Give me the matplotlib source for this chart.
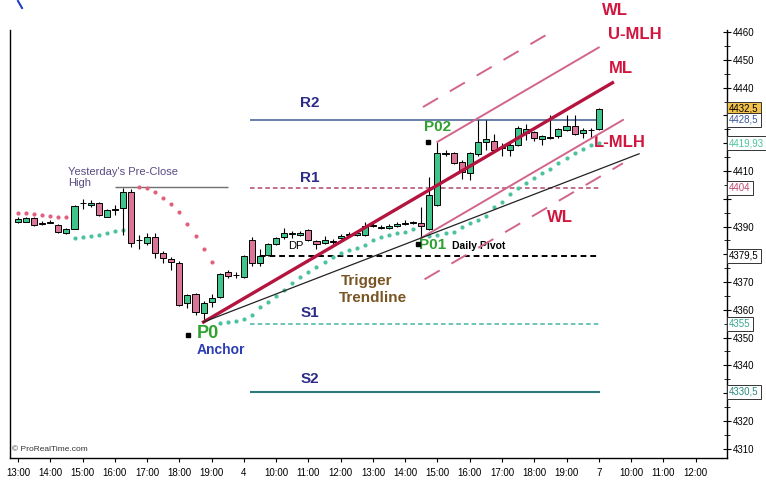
import numpy as np
import matplotlib.pyplot as plt
from matplotlib.transforms import blended_transform_factory
from matplotlib.lines import Line2D

plt.rcParams['font.family'] = ['Liberation Sans Narrow', 'Liberation Sans', 'DejaVu Sans']

# Data ---------------------------------------------------------

# 15 min bars, bar 0 = 13:00 of the first day
opens = [4391.8, 4391.8, 4393.0, 4390.9, 4391.3, 4390.6, 4387.5, 4389.1, 4398.3, 4397.6,
         4398.5, 4393.6, 4396.0, 4396.6, 4402.4, 4385.0, 4384.1, 4386.2, 4380.5, 4378.2,
         4376.9, 4362.4, 4365.7, 4358.8, 4362.8, 4364.6, 4373.6, 4372.5, 4371.8, 4385.1,
         4376.9, 4379.8, 4383.7, 4386.2, 4387.3, 4386.9, 4388.7, 4384.8, 4384.1, 4384.6,
         4385.9, 4387.1, 4386.9, 4386.9, 4390.2, 4389.5, 4389.6, 4390.2, 4390.9, 4391.3,
         4391.3, 4389.1, 4397.8, 4416.3, 4416.5, 4413.2, 4409.3, 4416.1, 4420.5, 4420.8,
         4418.3, 4417.6, 4419.4, 4423.7, 4424.0, 4421.5, 4422.0, 4422.6, 4424.8, 4426.2,
         4423.7, 4424.6, 4425.1]
highs = [4393.3, 4393.4, 4393.4, 4391.9, 4392.5, 4391.0, 4389.4, 4397.6, 4400.0, 4399.4,
         4398.9, 4396.3, 4397.7, 4404.0, 4403.6, 4387.0, 4387.5, 4387.7, 4381.0, 4379.0,
         4377.5, 4365.7, 4366.0, 4363.0, 4365.7, 4373.3, 4374.5, 4373.6, 4379.8, 4386.2,
         4381.9, 4384.1, 4386.2, 4389.5, 4388.5, 4388.5, 4389.0, 4385.1, 4386.5, 4385.5,
         4387.3, 4387.9, 4388.3, 4391.6, 4391.2, 4390.4, 4390.9, 4391.6, 4392.3, 4392.0,
         4397.0, 4407.8, 4420.5, 4417.6, 4417.0, 4414.0, 4417.0, 4428.4, 4428.4, 4423.3,
         4420.1, 4420.1, 4426.2, 4427.0, 4424.5, 4423.0, 4430.2, 4425.5, 4430.2, 4430.2,
         4425.5, 4425.5, 4432.7]
lows = [4391.2, 4391.5, 4390.2, 4390.6, 4391.2, 4387.6, 4387.3, 4389.0, 4396.3, 4397.0,
        4393.8, 4393.4, 4394.1, 4386.9, 4382.6, 4382.0, 4383.5, 4378.6, 4376.9, 4374.3,
        4361.5, 4360.5, 4358.1, 4355.6, 4361.0, 4364.2, 4371.5, 4371.5, 4371.5, 4375.8,
        4375.8, 4379.4, 4383.4, 4385.5, 4386.0, 4386.5, 4384.8, 4381.9, 4383.7, 4383.7,
        4385.5, 4386.5, 4386.5, 4386.5, 4389.8, 4389.1, 4389.1, 4389.8, 4390.5, 4390.9,
        4385.9, 4388.7, 4397.4, 4415.5, 4412.5, 4407.1, 4406.8, 4415.5, 4417.6, 4416.7,
        4415.5, 4415.5, 4419.0, 4421.2, 4420.8, 4419.4, 4421.5, 4422.0, 4424.5, 4423.0,
        4421.9, 4422.0, 4424.8]
closes = [4392.6, 4393.0, 4390.5, 4391.2, 4391.6, 4387.9, 4389.1, 4397.4, 4398.5, 4398.5,
          4394.1, 4396.0, 4396.1, 4402.3, 4384.0, 4385.2, 4386.2, 4380.5, 4378.6, 4377.2,
          4361.7, 4365.3, 4359.2, 4362.4, 4364.2, 4372.9, 4372.2, 4372.7, 4379.4, 4376.9,
          4379.4, 4383.7, 4385.9, 4387.7, 4387.5, 4387.7, 4385.1, 4383.7, 4385.1, 4384.8,
          4386.6, 4387.3, 4387.7, 4390.2, 4390.4, 4389.7, 4390.2, 4390.9, 4391.3, 4391.4,
          4390.2, 4401.4, 4416.5, 4416.6, 4412.9, 4409.6, 4416.5, 4420.5, 4421.5, 4417.6,
          4418.6, 4419.4, 4425.5, 4425.1, 4421.9, 4422.6, 4422.3, 4425.1, 4426.2, 4423.3,
          4424.8, 4424.8, 4432.5]

# parabolic SAR dots
sar_short_idx = [0, 1, 2, 3, 4, 5, 6, 15, 16, 17, 18, 19, 20, 21, 22, 23, 24]
sar_short = [4394.9, 4394.7, 4394.5, 4394.2, 4393.9, 4393.6, 4393.3,
             4404.2, 4403.9, 4402.4, 4400.3, 4398.1, 4395.2, 4390.9, 4386.6, 4381.9, 4377.2]
sar_long_idx = list(range(7, 14)) + list(range(25, 50)) + list(range(51, 73))
sar_long = [4385.9, 4386.2, 4386.6, 4386.9, 4387.7, 4388.4, 4388.7,
            4355.2, 4355.6, 4355.9, 4356.7, 4358.1, 4361.0, 4362.8, 4365.0, 4367.1, 4369.6,
            4371.8, 4373.6, 4375.4, 4377.2, 4379.0, 4380.5, 4381.5, 4382.3, 4383.3, 4385.1,
            4386.2, 4386.9, 4387.7, 4388.0, 4389.1,
            4386.6, 4386.9, 4387.7, 4388.0, 4389.8, 4391.3, 4392.3, 4393.8, 4397.0, 4398.8,
            4401.7, 4403.9, 4405.7, 4407.5, 4409.3, 4410.7, 4412.9, 4414.7, 4416.5, 4417.9,
            4419.4, 4419.93]

# pitchfork pivots (bar, price): P0, P01, P02
piv_x = [23, 50, 52]
piv_y = [4355.6, 4385.9, 4420.5]

# daily pivot levels
levels = {'R2': 4428.5, 'R1': 4404.0, 'DP': 4379.5, 'S1': 4355.0, 'S2': 4330.5}
preclose_high = 4404.4

tick_labels = ['13:00', '14:00', '15:00', '16:00', '17:00', '18:00', '19:00', '4',
               '10:00', '11:00', '12:00', '13:00', '14:00', '15:00', '16:00', '17:00',
               '18:00', '19:00', '7', '10:00', '11:00', '12:00']
tick_bars = np.arange(0, 85, 4)

price_ticks = np.arange(4310, 4461, 10)
hidden_ticks = [4330, 4380, 4400, 4420, 4430]   # covered by the value boxes

# Figure -------------------------------------------------------

fig = plt.figure(figsize=(7.66, 4.84), dpi=100)
ax = fig.add_axes([10 / 766, 26 / 484, 717 / 766, 428 / 484])
ax.set_xlim(-1.0, 87.9)
ax.set_ylim(4306.6, 4460.8)

o = np.array(opens)
h = np.array(highs)
l = np.array(lows)
c = np.array(closes)
idx = np.arange(len(o))
up = c >= o
body_col = np.where(up, '#3fc48c', '#d97598')

ax.vlines(idx, l, h, color='black', lw=0.8, zorder=3)
bottom = np.minimum(o, c)
height = np.maximum(np.abs(c - o), 0.15)
ax.bar(idx, height, bottom=bottom, width=0.75, color=body_col,
       edgecolor='black', linewidth=0.7, zorder=4)

ax.scatter(sar_short_idx, sar_short, s=9, color='#e0607e', zorder=2, linewidths=0)
ax.scatter(sar_long_idx, sar_long, s=9, color='#4cc3a0', zorder=2, linewidths=0)

# pivot levels
x0, x1 = 28.7, 72.1
ax.hlines(levels['R2'], x0, x1, color='#4d6a9c', lw=1.2, zorder=1)
ax.hlines(levels['R1'], x0, x1, color='#b0486a', lw=1.1, linestyles=(0, (3, 2)), zorder=1)
ax.hlines(levels['DP'], x0, x1, color='black', lw=1.4, linestyles=(0, (3, 2)), zorder=1)
ax.hlines(levels['S1'], x0, x1, color='#48b4a4', lw=1.1, linestyles=(0, (3, 2)), zorder=1)
ax.hlines(levels['S2'], x0, x1, color='#2b7a80', lw=1.5, zorder=1)
ax.hlines(preclose_high, 12.0, 26.0, color='#707070', lw=1.0, zorder=1)

# pitchfork
p0x, p1x, p2x = piv_x
p0y, p1y, p2y = piv_y
mx = (p1x + p2x) / 2
my = (p1y + p2y) / 2
slope = (my - p0y) / (mx - p0x)
ml = lambda x: p0y + slope * (x - p0x)
off = p2y - ml(p2x)

xs = np.array([p0x, 73.7])
ax.plot(xs, ml(xs), color='#b4143e', lw=2.4, zorder=5)
xs = np.array([p2x, 72.0])
ax.plot(xs, ml(xs) + off, color='#d2668a', lw=1.4, zorder=5)
xs = np.array([p1x, 75.0])
ax.plot(xs, ml(xs) - off, color='#d2668a', lw=1.4, zorder=5)
xs = np.array([50.2, 70.3])
ax.plot(xs, ml(xs) + 2 * off, color='#d2668a', lw=1.4, ls=(0, (9, 7)), zorder=5)
xs = np.array([50.4, 75.0])
ax.plot(xs, ml(xs) - 2 * off, color='#d2668a', lw=1.4, ls=(0, (9, 7)), zorder=5)

# trigger trendline P0 -> P01
tslope = (p1y - p0y) / (p1x - p0x)
xs = np.array([p0x, 77.0])
ax.plot(xs, p0y + tslope * (xs - p0x), color='#222222', lw=0.9, zorder=5)

# hand markers
ax.plot([21.1, 50.8, 49.6], [4351.0, 4420.3, 4383.6], 's', color='black', ms=3.5, zorder=6)

# Labels -------------------------------------------------------

red = '#d0163f'
navy = '#2c2c88'
green = '#2ea12e'
ax.text(74.0, 4468.0, 'WL', color=red, fontsize=12, fontweight='bold', ha='center', va='center', clip_on=False)
ax.text(76.5, 4459.0, 'U-MLH', color=red, fontsize=12, fontweight='bold', ha='center', va='center', clip_on=False)
ax.text(74.8, 4447.1, 'ML', color=red, fontsize=12, fontweight='bold', ha='center', va='center')
ax.text(74.6, 4420.1, 'L-MLH', color=red, fontsize=12, fontweight='bold', ha='center', va='center')
ax.text(67.2, 4393.1, 'WL', color=red, fontsize=12, fontweight='bold', ha='center', va='center')

for name, yy in [('R2', 4434.5), ('R1', 4407.5), ('S1', 4358.8), ('S2', 4335.0)]:
    ax.text(36.2, yy, name, color=navy, fontsize=11, fontweight='bold', ha='center', va='center')

ax.text(52.0, 4425.9, 'P02', color=green, fontsize=11, fontweight='bold', ha='center', va='center')
ax.text(51.4, 4383.3, 'P01', color=green, fontsize=11, fontweight='bold', ha='center', va='center')
ax.text(53.8, 4383.0, 'Daily Pivot', color='black', fontsize=7.5, fontweight='bold', ha='left', va='center')
ax.text(23.5, 4351.6, 'P0', color=green, fontsize=13, fontweight='bold', ha='center', va='center')
ax.text(25.2, 4345.5, 'Anchor', color='#2b3cb4', fontsize=10, fontweight='bold', ha='center', va='center')
ax.text(43.2, 4370.4, 'Trigger', color='#7a5524', fontsize=11, fontweight='bold', ha='center', va='center')
ax.text(44.0, 4364.2, 'Trendline', color='#7a5524', fontsize=11, fontweight='bold', ha='center', va='center')
ax.text(34.4, 4383.0, 'DP', color='black', fontsize=8, ha='center', va='center')
ax.text(6.2, 4409.6, "Yesterday's Pre-Close", color='#5a4a82', fontsize=8, ha='left', va='center')
ax.text(6.2, 4405.7, 'High', color='#5a4a82', fontsize=8, ha='left', va='center')
ax.text(-0.75, 4309.8, '\u00a9 ProRealTime.com', color='#333333', fontsize=6, ha='left', va='center')

# Axes ---------------------------------------------------------

ax.spines['top'].set_visible(False)
for s in ['left', 'right', 'bottom']:
    ax.spines[s].set_linewidth(1.0)
ax.yaxis.tick_right()
ax.set_yticks(price_ticks)
ax.set_yticklabels(['' if t in hidden_ticks else str(t) for t in price_ticks])
ax.set_yticks(np.arange(4315, 4461, 10), minor=True)
ax.tick_params(axis='y', which='major', direction='inout', length=6, labelsize=7, pad=1)
ax.tick_params(axis='y', which='minor', direction='inout', length=4)
ax.set_xticks(tick_bars)
ax.set_xticklabels(tick_labels)
ax.tick_params(axis='x', direction='out', length=3, labelsize=7, pad=4)

tr = blended_transform_factory(ax.transAxes, ax.transData)
boxes = [(4432.5, '4432,5', 'black', '#f2c24a'),
         (4428.5, '4428,5', '#3a5a9a', 'white'),
         (4419.93, '4419,93', '#4cc3a0', 'white'),
         (4404.0, '4404', '#c04a70', 'white'),
         (4379.5, '4379,5', 'black', 'white'),
         (4355.0, '4355', '#3aa890', 'white'),
         (4330.5, '4330,5', '#2b8a80', 'white')]
for yy, txt, tc, fc in boxes:
    ax.text(1.003, yy, txt, transform=tr, color=tc, fontsize=7, ha='left', va='center',
            bbox=dict(boxstyle='square,pad=0.2', fc=fc, ec='#333333', lw=0.7), zorder=10)

fig.add_artist(Line2D([18 / 766, 22 / 766], [1 - 1 / 484, 1 - 8 / 484], color='#2040c0', lw=1.5))

fig.savefig('out.png', dpi=100)
